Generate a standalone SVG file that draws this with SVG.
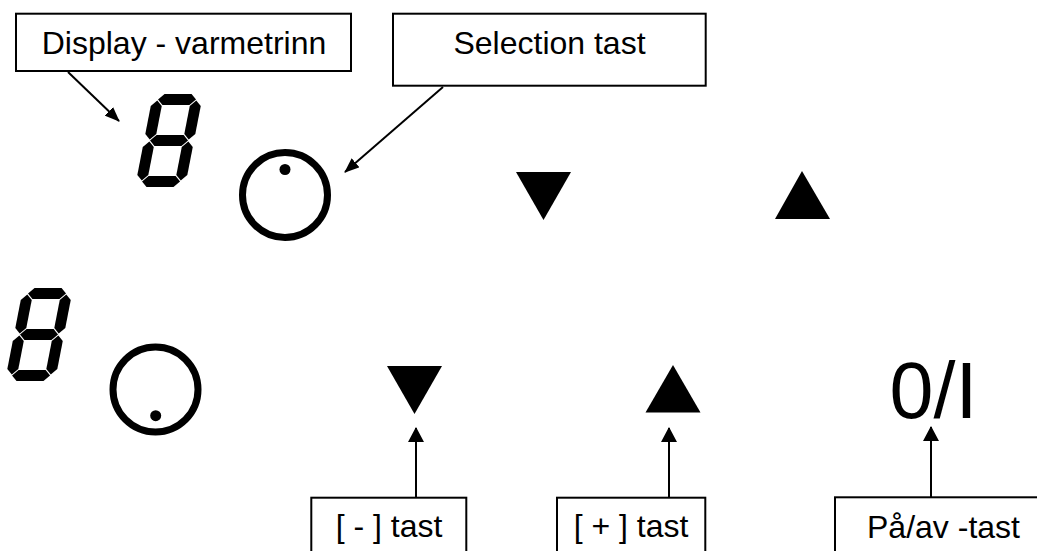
<svg xmlns="http://www.w3.org/2000/svg" width="1037" height="551" viewBox="0 0 1037 551">
<style>
.box{fill:#fff;stroke:#000;stroke-width:2}
.lbl{font-family:"Liberation Sans",Arial,sans-serif;font-size:32px;fill:#000;text-anchor:middle}
.con{stroke:#000;stroke-width:2;fill:none}
.ring{fill:none;stroke:#000;stroke-width:7}
</style>
<defs>
<marker id="ah" markerUnits="userSpaceOnUse" markerWidth="15" markerHeight="12" refX="14" refY="6" orient="auto" viewBox="0 0 15 12">
<path d="M0,0 L15,6 L0,12 z" fill="#000"/>
</marker>
<marker id="ahb" markerUnits="userSpaceOnUse" markerWidth="15" markerHeight="16" refX="14" refY="8" orient="auto" viewBox="0 0 15 16">
<path d="M0,0 L15,8 L0,16 z" fill="#000"/>
</marker>
<g id="seg8" transform="skewX(-11)" fill="#000">
<polygon points="6,-87.5 11.5,-93 38.5,-93 44,-87.5 38.5,-82 11.5,-82"/>
<polygon points="6,-46.5 11.5,-52 38.5,-52 44,-46.5 38.5,-41 11.5,-41"/>
<polygon points="6,-5.5 11.5,-11 38.5,-11 44,-5.5 38.5,0 11.5,0"/>
<polygon points="5.5,-86.5 11,-81 11,-53 5.5,-47.5 0,-53 0,-81"/>
<polygon points="44.5,-86.5 50,-81 50,-53 44.5,-47.5 39,-53 39,-81"/>
<polygon points="5.5,-45.5 11,-40 11,-12 5.5,-6.5 0,-12 0,-40"/>
<polygon points="44.5,-45.5 50,-40 50,-12 44.5,-6.5 39,-12 39,-40"/>
</g>
</defs>
<rect width="1037" height="551" fill="#fff"/>

<g id="connectors">
<line class="con" x1="68" y1="72" x2="119" y2="121" marker-end="url(#ah)"/>
<line class="con" x1="443" y1="87" x2="345" y2="172" marker-end="url(#ah)"/>
<line class="con" x1="416" y1="497" x2="416" y2="428" marker-end="url(#ahb)"/>
<line class="con" x1="669" y1="497" x2="669" y2="428" marker-end="url(#ahb)"/>
<line class="con" x1="931" y1="497" x2="931" y2="427" marker-end="url(#ahb)"/>
</g>

<g id="label-display">
<rect class="box" x="16" y="13.7" width="335" height="57.3"/>
<text class="lbl" x="184" y="53.5">Display - varmetrinn</text>
</g>
<g id="label-selection">
<rect class="box" x="393" y="13.7" width="312.7" height="72"/>
<text class="lbl" x="549.5" y="54">Selection tast</text>
</g>

<g id="display-1"><use href="#seg8" transform="translate(135,187)"/></g>
<g id="selector-1">
<circle class="ring" cx="285" cy="195" r="42.5"/>
<circle cx="285" cy="169.5" r="5.5" fill="#000"/>
</g>
<g id="minus-1"><polygon points="516,172 571,172 543.5,220" fill="#000"/></g>
<g id="plus-1"><polygon points="802,171 775,219 830,219" fill="#000"/></g>

<g id="display-2"><use href="#seg8" transform="translate(5,381)"/></g>
<g id="selector-2">
<circle class="ring" cx="155.5" cy="389.5" r="42.5"/>
<circle cx="155.7" cy="415.7" r="5.5" fill="#000"/>
</g>
<g id="minus-2"><polygon points="387,366 442,366 414.5,414" fill="#000"/></g>
<g id="plus-2"><polygon points="673,365 645.5,412.5 700.5,412.5" fill="#000"/></g>
<g id="onoff"><text x="889.6" y="418" style="font-family:'Liberation Sans',Arial,sans-serif;font-size:79px;fill:#000">0/I</text></g>

<g id="label-minus">
<rect class="box" x="311.3" y="497.7" width="155" height="70"/>
<text class="lbl" x="389" y="537">[ - ] tast</text>
</g>
<g id="label-plus">
<rect class="box" x="557" y="497.7" width="148.3" height="70"/>
<text class="lbl" x="631" y="537">[ + ] tast</text>
</g>
<g id="label-onoff">
<rect class="box" x="835" y="497.3" width="220" height="70"/>
<text class="lbl" x="943.5" y="538">På/av -tast</text>
</g>
</svg>
